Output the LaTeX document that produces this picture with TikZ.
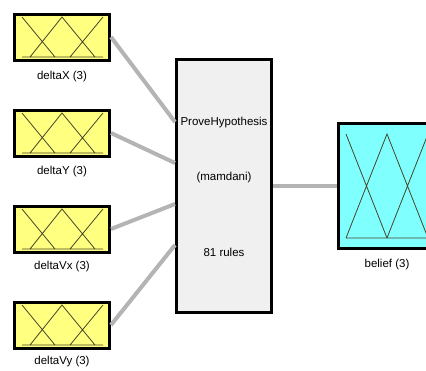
\documentclass[tikz,border=0pt]{standalone}
\usepackage{fontspec}
\setmainfont{Liberation Sans}
\definecolor{inyellow}{RGB}{255,255,128}
\definecolor{outcyan}{RGB}{128,255,255}
\definecolor{fisgray}{RGB}{240,240,240}
\definecolor{wiregray}{RGB}{180,180,180}
\definecolor{mfline}{RGB}{70,70,40}
\begin{document}
\begin{tikzpicture}[
    x=1pt, y=-1pt,
    inbox/.style={rectangle, draw, line width=3pt, minimum width=95pt, minimum height=46pt, fill=inyellow, inner sep=0pt},
    fisbox/.style={rectangle, draw, line width=3pt, minimum width=95pt, minimum height=253pt, fill=fisgray, inner sep=0pt},
    outbox/.style={rectangle, draw, line width=3pt, minimum width=97pt, minimum height=125pt, fill=outcyan, inner sep=0pt},
    lbl/.style={font=\fontsize{11.5}{13}\selectfont, inner sep=0pt},
    wire/.style={draw=wiregray, line width=4pt},
    mf/.style={draw=mfline, line width=0.8pt}
]
\useasboundingbox (0,0) rectangle (426,370);

% inputs
\node[inbox] (dX) at (62,37) {};
\node[inbox] (dY) at (62,133) {};
\node[inbox] (dVx) at (62,229) {};
\node[inbox] (dVy) at (62,325) {};

\node[lbl] (dXl) at (62,77) {deltaX (3)};
\node[lbl] (dYl) at (62,172) {deltaY (3)};
\node[lbl] (dVxl) at (62,267) {deltaVx (3)};
\node[lbl] (dVyl) at (62,362) {deltaVy (3)};

% rule block and output
\node[fisbox] (rules) at (224,186) {};
\node[lbl] (fisname) at (224,123) {ProveHypothesis};
\node[lbl] (fistype) at (224,178) {(mamdani)};
\node[lbl] (nrules) at (224,252) {81 rules};

\node[outbox] (belief) at (387,186) {};
\node[lbl] (beliefl) at (387,265) {belief (3)};

% connections
\draw[wire] (dX.east) -- ([yshift=64pt]rules.west);
\draw[wire] (dY.east) -- ([yshift=23pt]rules.west);
\draw[wire] (dVx.east) -- ([yshift=-18pt]rules.west);
\draw[wire] (dVy.east) -- ([yshift=-59pt]rules.west);
\draw[wire] (rules.east) -- (belief.west);

% membership functions
\draw[mf] ([shift={(-40,-20)}]dX.center) -- ([shift={(-7,20)}]dX.center)
    ([shift={(-32,20)}]dX.center) -- ([shift={(0,-20)}]dX.center) -- ([shift={(33,20)}]dX.center)
    ([shift={(8,20)}]dX.center) -- ([shift={(41,-20)}]dX.center)
    ([shift={(-40,20)}]dX.center) -- ([shift={(41,20)}]dX.center);
\draw[mf] ([shift={(-40,-20)}]dY.center) -- ([shift={(-7,20)}]dY.center)
    ([shift={(-32,20)}]dY.center) -- ([shift={(0,-20)}]dY.center) -- ([shift={(33,20)}]dY.center)
    ([shift={(8,20)}]dY.center) -- ([shift={(41,-20)}]dY.center)
    ([shift={(-40,20)}]dY.center) -- ([shift={(41,20)}]dY.center);
\draw[mf] ([shift={(-40,-20)}]dVx.center) -- ([shift={(-7,20)}]dVx.center)
    ([shift={(-32,20)}]dVx.center) -- ([shift={(0,-20)}]dVx.center) -- ([shift={(33,20)}]dVx.center)
    ([shift={(8,20)}]dVx.center) -- ([shift={(41,-20)}]dVx.center)
    ([shift={(-40,20)}]dVx.center) -- ([shift={(41,20)}]dVx.center);
\draw[mf] ([shift={(-40,-20)}]dVy.center) -- ([shift={(-7,20)}]dVy.center)
    ([shift={(-32,20)}]dVy.center) -- ([shift={(0,-20)}]dVy.center) -- ([shift={(33,20)}]dVy.center)
    ([shift={(8,20)}]dVy.center) -- ([shift={(41,-20)}]dVy.center)
    ([shift={(-40,20)}]dVy.center) -- ([shift={(41,20)}]dVy.center);
\draw[mf] ([shift={(-41,-52)}]belief.center) -- ([shift={(0,52)}]belief.center)
    ([shift={(-41,52)}]belief.center) -- ([shift={(0,-52)}]belief.center) -- ([shift={(41,52)}]belief.center)
    ([shift={(0,52)}]belief.center) -- ([shift={(41,-52)}]belief.center)
    ([shift={(-41,52)}]belief.center) -- ([shift={(41,52)}]belief.center);
\end{tikzpicture}
\end{document}
